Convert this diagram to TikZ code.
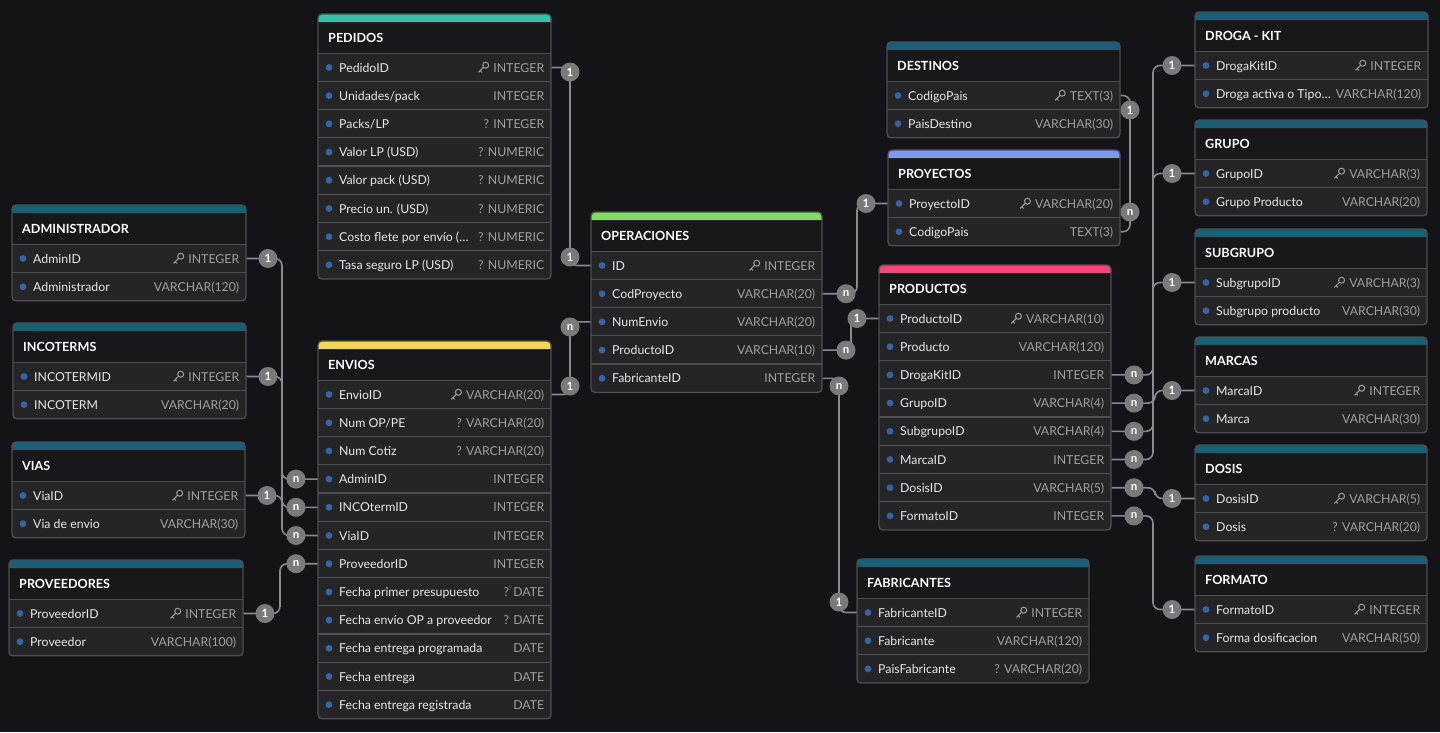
\documentclass[tikz,border=0pt]{standalone}
\usepackage{fontspec}
\setmainfont{Lato}

\definecolor{bgdark}{HTML}{141418}
\definecolor{headfill}{HTML}{18181B}
\definecolor{rowfill}{HTML}{252528}
\definecolor{lineg}{HTML}{4E4E53}
\definecolor{edgeg}{HTML}{8A8A8E}
\definecolor{badgeg}{HTML}{7A7A7A}
\definecolor{dotblue}{HTML}{3565A6}
\definecolor{fieldc}{HTML}{E8E8E8}
\definecolor{typec}{HTML}{A0A0A0}
\definecolor{bardef}{HTML}{1B5E78}
\definecolor{barped}{HTML}{30C3A6}
\definecolor{barope}{HTML}{80DC62}
\definecolor{barenv}{HTML}{F6D64E}
\definecolor{barpry}{HTML}{7F98F5}
\definecolor{barprd}{HTML}{F2497A}

\pgfdeclarelayer{back}
\pgfdeclarelayer{edges}
\pgfsetlayers{back,edges,main}

\tikzstyle{rowbox}=[rectangle,fill=rowfill,minimum height=28.2,inner sep=0,anchor=west]
\tikzstyle{fieldtxt}=[anchor=west,inner sep=0,text=fieldc,text height=12,text depth=3,font=\fontsize{12.3}{14}\selectfont]
\tikzstyle{typetxt}=[anchor=east,inner sep=0,text=typec,text height=12,text depth=3,font=\fontsize{12.3}{14}\selectfont]
\tikzstyle{titletxt}=[anchor=west,inner sep=0,text=white,text height=12,text depth=3,font=\bfseries\fontsize{12.6}{14}\selectfont]
\tikzstyle{badge}=[circle,fill=badgeg,text=white,inner sep=0,minimum size=19,font=\bfseries\fontsize{11.5}{12}\selectfont]
\tikzstyle{rel}=[draw=edgeg,line width=1.6,rounded corners=7]
\tikzstyle{sepline}=[draw=lineg,line width=1.2]
\tikzstyle{tableline}=[draw=lineg,line width=1.3,rounded corners=4]
\tikzstyle{keyline}=[draw=typec,line width=1,line cap=round]

% table frame: name, x1, x2, top, rows, bar colour, title
\newcommand{\etable}[7]{%
  \def\erx{#2}\def\erX{#3}\def\ertop{#4}
  \pgfmathsetmacro{\erbot}{#4+39.4+28.2*#5}
  \fill[headfill,rounded corners=4] (#2,#4) rectangle (#3,\erbot);
  \fill[#6] (#2,#4+8) [rounded corners=4] -- (#2,#4) -- (#3,#4) [sharp corners] -- (#3,#4+8) -- cycle;
  \node[titletxt] (#1-title) at (#2+10,#4+24) {#7};
}
% row: name, index, field, type
\newcommand{\erow}[4]{%
  \pgfmathsetmacro{\ery}{\ertop+53.5+28.2*(#2-1)}
  \pgfmathsetmacro{\erw}{\erX-\erx}
  \node[rowbox,minimum width=\erw] (#1) at (\erx,\ery) {};
  \draw[sepline] (#1.north west) -- (#1.north east);
  \fill[dotblue] ([xshift=11]#1.west) circle (3.4);
  \node[fieldtxt] (#1-f) at ([xshift=21]#1.west) {#3};
  \node[typetxt] (#1-t) at ([xshift=-7]#1.east) {#4};
}
% key row
\newcommand{\ekrow}[4]{%
  \erow{#1}{#2}{#3}{#4}
  \draw[keyline] ([xshift=-7.5,yshift=2.3]#1-t.west) circle (3)
    ([xshift=-9.6,yshift=0.2]#1-t.west) -- ([xshift=-14.5,yshift=-4.7]#1-t.west)
    ([xshift=-13,yshift=-3.2]#1-t.west) -- ([xshift=-11.4,yshift=-4.8]#1-t.west);
}
\newcommand{\eclose}{\draw[tableline] (\erx,\ertop) rectangle (\erX,\erbot);}

\begin{document}
\begin{tikzpicture}[x=1pt,y=-1pt]
\begin{pgfonlayer}{back}
\fill[bgdark] (0,0) rectangle (1440,732);
\end{pgfonlayer}

% left column
\etable{adm}{12}{246}{205}{2}{bardef}{ADMINISTRADOR}
\ekrow{adm1}{1}{AdminID}{INTEGER}
\erow{adm2}{2}{Administrador}{VARCHAR(120)}
\eclose
\etable{inc}{13}{246}{323}{2}{bardef}{INCOTERMS}
\ekrow{inc1}{1}{INCOTERMID}{INTEGER}
\erow{inc2}{2}{INCOTERM}{VARCHAR(20)}
\eclose
\etable{via}{12}{245}{442}{2}{bardef}{VIAS}
\ekrow{via1}{1}{ViaID}{INTEGER}
\erow{via2}{2}{Via de envio}{VARCHAR(30)}
\eclose
\etable{prv}{9}{243}{560}{2}{bardef}{PROVEEDORES}
\ekrow{prv1}{1}{ProveedorID}{INTEGER}
\erow{prv2}{2}{Proveedor}{VARCHAR(100)}
\eclose

% middle column
\etable{ped}{318}{551}{14}{8}{barped}{PEDIDOS}
\ekrow{ped1}{1}{PedidoID}{INTEGER}
\erow{ped2}{2}{Unidades/pack}{INTEGER}
\erow{ped3}{3}{Packs/LP}{? INTEGER}
\erow{ped4}{4}{Valor LP (USD)}{? NUMERIC}
\erow{ped5}{5}{Valor pack (USD)}{? NUMERIC}
\erow{ped6}{6}{Precio un. (USD)}{? NUMERIC}
\erow{ped7}{7}{Costo flete por envío (…}{? NUMERIC}
\erow{ped8}{8}{Tasa seguro LP (USD)}{? NUMERIC}
\eclose
\etable{env}{318}{551}{341}{12}{barenv}{ENVIOS}
\ekrow{env1}{1}{EnvioID}{VARCHAR(20)}
\erow{env2}{2}{Num OP/PE}{? VARCHAR(20)}
\erow{env3}{3}{Num Cotiz}{? VARCHAR(20)}
\erow{env4}{4}{AdminID}{INTEGER}
\erow{env5}{5}{INCOtermID}{INTEGER}
\erow{env6}{6}{ViaID}{INTEGER}
\erow{env7}{7}{ProveedorID}{INTEGER}
\erow{env8}{8}{Fecha primer presupuesto}{? DATE}
\erow{env9}{9}{Fecha envío OP a proveedor}{? DATE}
\erow{env10}{10}{Fecha entrega programada}{DATE}
\erow{env11}{11}{Fecha entrega}{DATE}
\erow{env12}{12}{Fecha entrega registrada}{DATE}
\eclose
\etable{ope}{591}{822}{212}{5}{barope}{OPERACIONES}
\ekrow{op1}{1}{ID}{INTEGER}
\erow{op2}{2}{CodProyecto}{VARCHAR(20)}
\erow{op3}{3}{NumEnvio}{VARCHAR(20)}
\erow{op4}{4}{ProductoID}{VARCHAR(10)}
\erow{op5}{5}{FabricanteID}{INTEGER}
\eclose

% right middle column
\etable{des}{887}{1120}{42}{2}{bardef}{DESTINOS}
\ekrow{des1}{1}{CodigoPais}{TEXT(3)}
\erow{des2}{2}{PaisDestino}{VARCHAR(30)}
\eclose
\etable{pry}{888}{1120}{150}{2}{barpry}{PROYECTOS}
\ekrow{pry1}{1}{ProyectoID}{VARCHAR(20)}
\erow{pry2}{2}{CodigoPais}{TEXT(3)}
\eclose
\etable{prd}{879}{1111}{265}{8}{barprd}{PRODUCTOS}
\ekrow{prd1}{1}{ProductoID}{VARCHAR(10)}
\erow{prd2}{2}{Producto}{VARCHAR(120)}
\erow{prd3}{3}{DrogaKitID}{INTEGER}
\erow{prd4}{4}{GrupoID}{VARCHAR(4)}
\erow{prd5}{5}{SubgrupoID}{VARCHAR(4)}
\erow{prd6}{6}{MarcaID}{INTEGER}
\erow{prd7}{7}{DosisID}{VARCHAR(5)}
\erow{prd8}{8}{FormatoID}{INTEGER}
\eclose
\etable{fab}{857}{1089}{559}{3}{bardef}{FABRICANTES}
\ekrow{fab1}{1}{FabricanteID}{INTEGER}
\erow{fab2}{2}{Fabricante}{VARCHAR(120)}
\erow{fab3}{3}{PaisFabricante}{? VARCHAR(20)}
\eclose

% right column
\etable{drg}{1195}{1428}{12}{2}{bardef}{DROGA - KIT}
\ekrow{drg1}{1}{DrogaKitID}{INTEGER}
\erow{drg2}{2}{Droga activa o Tipo…}{VARCHAR(120)}
\eclose
\etable{grp}{1195}{1427}{120}{2}{bardef}{GRUPO}
\ekrow{grp1}{1}{GrupoID}{VARCHAR(3)}
\erow{grp2}{2}{Grupo Producto}{VARCHAR(20)}
\eclose
\etable{sub}{1195}{1427}{229}{2}{bardef}{SUBGRUPO}
\ekrow{sub1}{1}{SubgrupoID}{VARCHAR(3)}
\erow{sub2}{2}{Subgrupo producto}{VARCHAR(30)}
\eclose
\etable{mar}{1195}{1427}{337}{2}{bardef}{MARCAS}
\ekrow{mar1}{1}{MarcaID}{INTEGER}
\erow{mar2}{2}{Marca}{VARCHAR(30)}
\eclose
\etable{dos}{1195}{1427}{445}{2}{bardef}{DOSIS}
\ekrow{dos1}{1}{DosisID}{VARCHAR(5)}
\erow{dos2}{2}{Dosis}{? VARCHAR(20)}
\eclose
\etable{fmt}{1195}{1427}{556}{2}{bardef}{FORMATO}
\ekrow{fmt1}{1}{FormatoID}{INTEGER}
\erow{fmt2}{2}{Forma dosificacion}{VARCHAR(50)}
\eclose

% cardinality badges
\node[badge] (ba1) at (268,258.5) {1};
\node[badge] (ba2) at (268,376.5) {1};
\node[badge] (ba3) at (267,495.5) {1};
\node[badge] (ba4) at (265,613.5) {1};
\node[badge] (bn1) at (296,479.1) {n};
\node[badge] (bn2) at (296,507.3) {n};
\node[badge] (bn3) at (296,535.5) {n};
\node[badge] (bn4) at (296,563.7) {n};
\node[badge] (bp1) at (570,72) {1};
\node[badge] (bp2) at (570,257) {1};
\node[badge] (be1) at (570,386) {1};
\node[badge] (be2) at (570,327) {n};
\node[badge] (bo1) at (846,293.7) {n};
\node[badge] (bo2) at (866,203.5) {1};
\node[badge] (bo3) at (846,350.1) {n};
\node[badge] (bo4) at (857,318.5) {1};
\node[badge] (bo5) at (839,386) {n};
\node[badge] (bo6) at (839,602) {1};
\node[badge] (bd1) at (1130,110) {1};
\node[badge] (bd2) at (1130,212) {n};
\node[badge] (bk3) at (1134,374.9) {n};
\node[badge] (bk4) at (1134,403.1) {n};
\node[badge] (bk5) at (1134,431.3) {n};
\node[badge] (bk6) at (1134,459.5) {n};
\node[badge] (bk7) at (1134,487.7) {n};
\node[badge] (bk8) at (1134,515.9) {n};
\node[badge] (bq1) at (1172,65.5) {1};
\node[badge] (bq2) at (1172,173.5) {1};
\node[badge] (bq3) at (1172,282.5) {1};
\node[badge] (bq4) at (1172,390.5) {1};
\node[badge] (bq5) at (1172,498.5) {1};
\node[badge] (bq6) at (1172,609.5) {1};

% relations
\begin{pgfonlayer}{edges}
\draw[rel] (adm1.east) -- (ba1.center) -- ++(14,0) |- (bn1.center) -- (env4.west);
\draw[rel] (inc1.east) -- (ba2.center) -- ++(14,0) |- (bn2.center) -- (env5.west);
\draw[rel] (via1.east) -- (ba3.center) -- ++(15,0) |- (bn3.center) -- (env6.west);
\draw[rel] (prv1.east) -- (ba4.center) -- ++(15,0) |- (bn4.center) -- (env7.west);
\draw[rel] (ped1.east) -| (bp1.center) -- (bp2.center) |- (op1.west);
\draw[rel] (env1.east) -| (be1.center) -- (be2.center) |- (op3.west);
\draw[rel] (op2.east) -- (bo1.center) -- ++(11,0) |- (pry1.west);
\draw[rel] (op4.east) -- (bo3.center) -- ++(5,0) |- (prd1.west);
\draw[rel] (op5.east) -| (bo5.center) -- (bo6.center) |- (fab1.west);
\draw[rel] (des1.east) -| (bd1.center) -- (bd2.center) |- (pry2.east);
\draw[rel] (prd3.east) -- (bk3.center) -- ++(19,0) |- (bq1.center) -- (drg1.west);
\draw[rel] (prd4.east) -- (bk4.center) -- ++(21,0) |- (bq4.center) -- (mar1.west);
\draw[rel] (prd5.east) -- (bk5.center) -- ++(19,0) |- (bq3.center) -- (sub1.west);
\draw[rel] (prd6.east) -- (bk6.center) -- ++(19,0) |- (bq2.center) -- (grp1.west);
\draw[rel] (prd7.east) -- (bk7.center) -- ++(21,0) |- (bq5.center) -- (dos1.west);
\draw[rel] (prd8.east) -- (bk8.center) -- ++(19,0) |- (bq6.center) -- (fmt1.west);
\end{pgfonlayer}
\end{tikzpicture}
\end{document}
